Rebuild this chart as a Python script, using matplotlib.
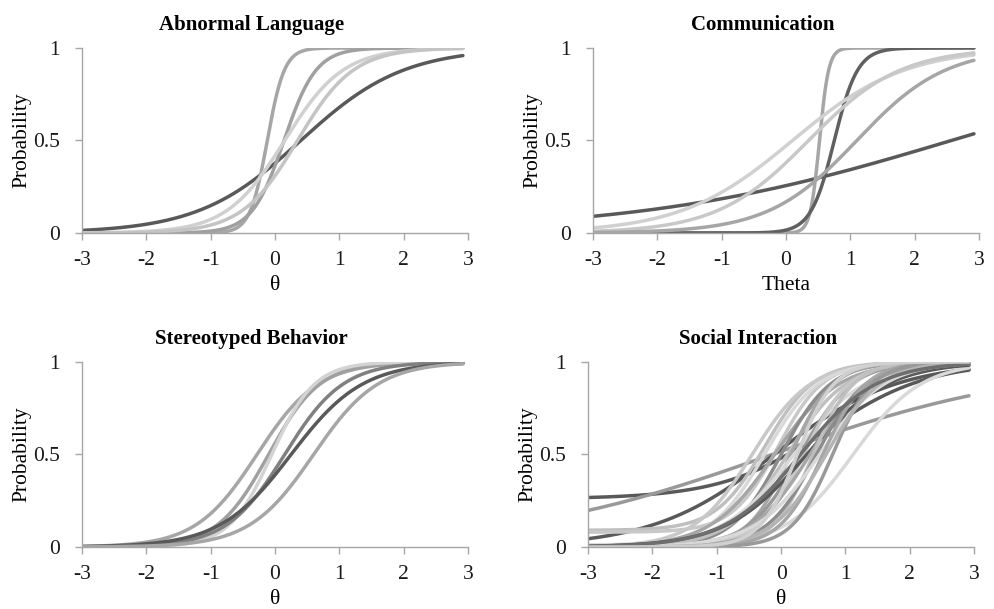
import matplotlib
matplotlib.use("Agg")
import matplotlib.pyplot as plt
import numpy as np

plt.rcParams["font.family"] = ["Liberation Serif", "DejaVu Serif"]
plt.rcParams["axes.unicode_minus"] = False

# item parameters (discrimination a, difficulty b, lower asymptote c) per domain
al_a = [1.25, 7.5, 4.0, 2.2, 2.3]
al_b = [0.4, -0.12, 0.14, 0.15, 0.35]
al_c = [0.0, 0.0, 0.0, 0.0, 0.0]
al_colors = ["#595959", "#a6a6a6", "#a0a0a0", "#d0d0d0", "#c4c4c4"]

com_a = [0.415, 14.0, 5.5, 1.15, 1.4, 1.45]
com_b = [2.57, 0.52, 0.75, 0.1, 0.35, 1.1]
com_c = [0.0, 0.0, 0.0, 0.0, 0.0, 0.0]
com_colors = ["#595959", "#a6a6a6", "#606060", "#d0d0d0", "#c8c8c8", "#a6a6a6"]

st_a = [2.1, 2.5, 3.0, 2.2, 1.8, 2.0]
st_b = [-0.28, -0.1, -0.05, 0.15, 0.25, 0.6]
st_c = [0.0, 0.0, 0.0, 0.0, 0.0, 0.0]
st_colors = ["#a6a6a6", "#a0a0a0", "#d3d3d3", "#808080", "#595959", "#a6a6a6"]

soc_a = [1.24, 0.49, 1.06, 2.6, 2.8, 1.9, 2.2, 2.4, 2.0, 2.6, 2.2, 3.0, 1.8,
         2.5, 2.8, 1.6, 2.2, 3.2, 2.6, 2.0, 3.0, 3.2, 2.4, 1.7, 3.5]
soc_b = [0.69, -0.14, -0.11, -0.25, -0.05, 1.12, -0.45, -0.25, -0.1, 0.0, 0.1, 0.15, 0.2,
         0.3, 0.35, 0.4, 0.45, 0.5, 0.55, 0.6, 0.65, 0.8, 0.7, 0.3, 0.25]
soc_c = [0.26, 0.0, 0.0, 0.09, 0.08, 0.0, 0.0, 0.01, 0.0, 0.0, 0.0, 0.0, 0.0,
         0.0, 0.0, 0.0, 0.0, 0.0, 0.0, 0.0, 0.0, 0.0, 0.0, 0.0, 0.0]
soc_colors = ["#595959", "#999999", "#595959", "#bfbfbf", "#c8c8c8", "#d9d9d9", "#c8c8c8",
              "#d9d9d9", "#a6a6a6", "#8c8c8c", "#bfbfbf", "#a6a6a6", "#d9d9d9", "#999999",
              "#c8c8c8", "#595959", "#a6a6a6", "#bfbfbf", "#8c8c8c", "#d9d9d9", "#a6a6a6",
              "#999999", "#b3b3b3", "#6e6e6e", "#d0d0d0"]

panels = [
    ("Abnormal Language", "θ", al_a, al_b, al_c, al_colors, [0.0824, 0.6174, 0.388, 0.3038]),
    ("Communication", "Theta", com_a, com_b, com_c, com_colors, [0.596, 0.6174, 0.388, 0.3038]),
    ("Stereotyped Behavior", "θ", st_a, st_b, st_c, st_colors, [0.0824, 0.1018, 0.388, 0.3038]),
    ("Social Interaction", "θ", soc_a, soc_b, soc_c, soc_colors, [0.591, 0.1018, 0.388, 0.3038]),
]

theta = np.linspace(-3, 2.92, 400)
axis_grey = "#a6a6a6"


def icc(a, b, c):
    return c + (1 - c) / (1 + np.exp(-a * (theta - b)))


fig = plt.figure(figsize=(9.95, 6.09), dpi=100)
for title, xlabel, a_vals, b_vals, c_vals, colors, rect in panels:
    ax = fig.add_axes(rect)
    for a, b, c, col in zip(a_vals, b_vals, c_vals, colors):
        ax.plot(theta, icc(a, b, c), color=col, lw=2.5, solid_capstyle="round")
    ax.set_xlim(-3, 3)
    ax.set_ylim(0, 1)
    ax.set_xticks([-3, -2, -1, 0, 1, 2, 3])
    ax.set_yticks([0, 0.5, 1])
    ax.set_yticklabels(["0", "0.5", "1"])
    for side in ("top", "right"):
        ax.spines[side].set_visible(False)
    for side in ("left", "bottom"):
        ax.spines[side].set_color(axis_grey)
        ax.spines[side].set_linewidth(1.0)
    ax.tick_params(axis="both", colors=axis_grey, labelcolor="#1a1a1a", labelsize=15.5,
                   length=5, width=1.0)
    ax.tick_params(axis="x", pad=8)
    ax.tick_params(axis="y", pad=11)
    # title sits centred over the whole panel, ylabel included
    ax.set_title(title, fontsize=15, fontweight="bold", pad=13, x=0.44)
    ax.set_xlabel(xlabel, fontsize=15.5, labelpad=4)
    ax.set_ylabel("Probability", fontsize=15.5, labelpad=1)

fig.savefig("out.png", dpi=100)
